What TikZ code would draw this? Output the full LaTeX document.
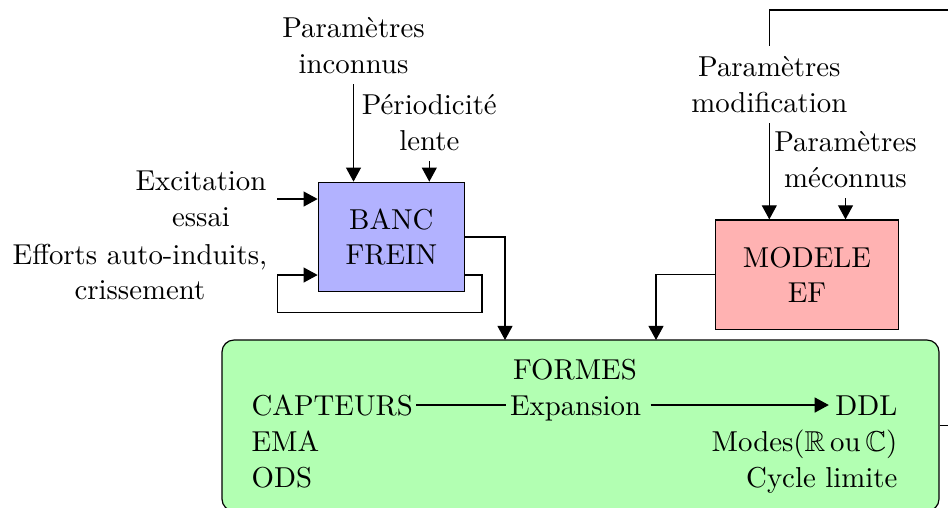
\documentclass[tikz,border=0pt]{standalone}
\usepackage{amssymb}
\usetikzlibrary{arrows.meta}
\begin{document}
\begin{tikzpicture}[x=0.33333pt,y=-0.33333pt,
  font=\fontsize{9.6pt}{11.9pt}\selectfont,
  arr/.style={-{Triangle[length=4.7pt,width=5pt]}},
  blk/.style={draw,minimum height=36.5pt,align=center,inner sep=0pt},
  lbl/.style={align=center},
  tx/.style={inner sep=1pt}]
\useasboundingbox (0,0) rectangle (948,507);
% blocks
\node[blk,fill=blue!30,minimum width=48.7pt] (banc) at (391.3,237) {BANC\\FREIN};
\node[blk,fill=red!30,minimum width=60.9pt] (modele) at (807,274.7) {MODELE\\EF};
\node[draw,fill=green!30,rounded corners=4pt,minimum width=239pt,minimum height=57pt] (formes) at (580.5,425.5) {};
% labels
\node[lbl,anchor=south] (pinc) at (353.5,84) {Paramètres\\inconnus};
\node[lbl,anchor=south] (plen) at (429.3,161) {Périodicité\\lente};
\node[lbl,anchor=east] (exc) at (277,199) {Excitation\\essai};
\node[lbl,anchor=east] (eff) at (277.7,272) {Efforts auto-induits,\\crissement};
\node[lbl,anchor=south] (pmod) at (769.3,123) {Paramètres\\modification};
\node[lbl,anchor=south] (pmec) at (845.5,198) {Paramètres\\méconnus};
% coordinates
\coordinate (lpr) at (482,275);
\coordinate (lpb) at (277.7,312.3);
\coordinate (bout) at (505,340);
\coordinate (mout) at (656,340);
\coordinate (fbr) at (975,10);
% connectors
\draw[arr] (pinc.south) -- (pinc.south |- banc.north);
\draw[arr] (plen.south) -- (plen.south |- banc.north);
\draw[arr] (exc.east) -- (exc.east -| banc.west);
\draw[arr] (banc.east |- lpr) -- (lpr) |- (lpb) |- (banc.west |- lpr);
\draw[arr] (banc.east) -| (bout);
\draw[arr] (modele.west) -| (mout);
\draw[arr] (pmod.south) -- (pmod.south |- modele.north);
\draw[arr] (pmec.south) -- (pmec.south |- modele.north);
\draw (formes.east) -| (fbr) -| (pmod.north);
% inside FORMES
\node[tx,anchor=base] (tform) at (575,379) {FORMES};
\node[tx,anchor=base west] (capt) at (248,415) {CAPTEURS};
\node[tx,anchor=base] (expa) at (575.5,415) {Expansion};
\node[tx,anchor=base east] (ddl) at (901,415) {DDL};
\node[tx,anchor=base west] (ema) at (248,451) {EMA};
\node[tx,anchor=base west] (ods) at (248,487) {ODS};
\node[tx,anchor=base east] (modes) at (901,451) {Modes($\mathbb{R}$\,ou\,$\mathbb{C}$)};
\node[tx,anchor=base east] (cyc) at (901,487) {Cycle limite};
\draw (capt.east) -- (capt.east -| expa.west);
\draw[arr,shorten <=2pt,shorten >=1pt] (expa.east |- capt.east) -- (ddl.west |- capt.east);
\end{tikzpicture}
\end{document}
